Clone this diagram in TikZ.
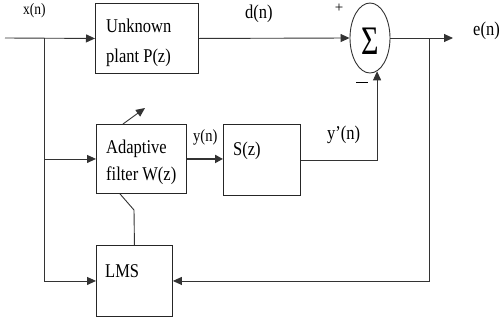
\documentclass[tikz,border=0pt]{standalone}
\usepackage{fontspec}
\setmainfont{Liberation Serif}
\usetikzlibrary{arrows.meta,shapes.geometric}
\newcommand{\tx}[1]{\scalebox{1}[1.18]{#1}}
\begin{document}
\begin{tikzpicture}[x=1pt,y=-1pt,
  ln/.style={draw=black!80, line width=0.9pt},
  arr/.style={ln, -{Triangle[length=9pt,width=8pt]}},
  box/.style={draw=black!85, line width=0.9pt, rectangle, inner sep=0pt, anchor=north west},
  lbl/.style={inner sep=0pt, anchor=base west, font=\fontsize{16.5}{18}\selectfont},
  slbl/.style={inner sep=0pt, anchor=base west, font=\fontsize{13.5}{15}\selectfont}]
\useasboundingbox (0,0) rectangle (503,322);
% blocks
\node[box, minimum width=103pt, minimum height=70pt] (plant) at (95,3) {};
\node[box, minimum width=90pt, minimum height=69pt] (filter) at (96,124) {};
\node[box, minimum width=77pt, minimum height=71pt] (S) at (223,124) {};
\node[box, minimum width=76pt, minimum height=71pt] (LMS) at (96,245) {};
\node[draw=black!80, line width=0.9pt, ellipse, minimum width=40pt, minimum height=70pt, inner sep=0pt] (sum) at (370,38) {};
% texts
\node[lbl] (t1) at (106,32) {\tx{Unknown}};
\node[lbl] (t2) at (106,62) {\tx{plant P(z)}};
\node[lbl] (t3) at (106,153) {\tx{Adaptive}};
\node[lbl] (t4) at (106,180) {\tx{filter W(z)}};
\node[lbl] (t5) at (233,155) {\tx{S(z)}};
\node[lbl] (t6) at (105,277) {\tx{LMS}};
\node[inner sep=0pt, font=\fontsize{30}{30}\selectfont] (sig) at (370,41) {\scalebox{1}[1.35]{Σ}};
\node[slbl] (lx) at (23,14) {\tx{x(n)}};
\node[lbl] (ld) at (245,18) {\tx{d(n)}};
\node[lbl] (le) at (473,35) {\tx{e(n)}};
\node[lbl, font=\fontsize{14.5}{16}\selectfont] (ly) at (193,141) {\tx{y(n)}};
\node[lbl] (lyp) at (327,139) {\tx{y’(n)}};
\node[inner sep=0pt, font=\fontsize{15}{15}\selectfont] (plus) at (339,8) {+};
\node[inner sep=0pt] (minus) at (362,82) {\rule{12pt}{0.9pt}};
% coordinates
\coordinate (in) at (5,38);
\coordinate (split) at (44,38);
\coordinate (out) at (453,38);
\coordinate (fb) at (429,38);
\coordinate (bend) at (134,210);
\coordinate (adtip) at ([xshift=49pt,yshift=16pt]filter.north west);
% connectors
\draw[arr] (in) -- (plant.west);
\draw[arr] (split) |- (LMS.west);
\draw[arr] (split |- filter.west) -- (filter.west);
\draw[arr] (plant.east) -- (sum.west);
\draw[arr] (sum.east) -- (out);
\draw[arr] (fb) |- (LMS.east);
\draw[ln, line width=2.2pt, -{Triangle[length=8pt,width=8pt]}] (filter.east) -- (S.west |- filter.east);
\draw[arr] (S.east) -| (sum.-78);
\draw[arr] ([xshift=27pt]filter.north west) -- (adtip);
\draw[ln] (LMS.north) -- (bend) -- ([xshift=24pt]filter.south west);
\end{tikzpicture}
\end{document}
